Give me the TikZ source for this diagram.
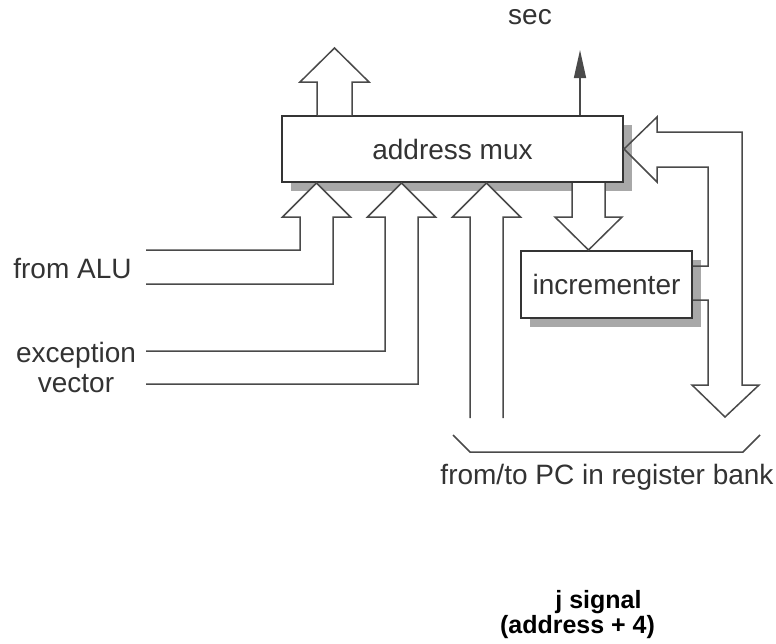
\documentclass[tikz,border=0pt]{standalone}
\usepackage{fontspec}
\setmainfont{Liberation Sans}
\usetikzlibrary{arrows.meta, positioning, shadows}
\definecolor{armLine}{HTML}{4A4A4A}
\definecolor{armText}{HTML}{333333}
\definecolor{armShade}{HTML}{A8A8A8}

\begin{document}
\begin{tikzpicture}[
    x=0.5pt, y=-0.5pt,
    block/.style={rectangle, draw=armLine!70!black, line width=1pt, fill=white,
                  font=\fontsize{14}{16}\selectfont\color{armText},
                  drop shadow={shadow xshift=4.5pt, shadow yshift=-4.5pt,
                               fill=armShade, opacity=1}},
    bus/.style={draw=armLine, line width=0.75pt, line join=miter},
    lbl/.style={font=\fontsize{14}{15}\selectfont\color{armText}, inner sep=0pt},
    note/.style={font=\bfseries\fontsize{12.5}{14}\selectfont, inner sep=0pt},
  ]
    \fill[white] (0,0) rectangle (776,643);
    \useasboundingbox (0,0) rectangle (776,643);

    \node[lbl, anchor=base] (sec) at (530,24) {sec};

    \node[block, minimum width=170.5pt, minimum height=33pt] (mux) at (452.5,149) {address mux};
    \node[block, minimum width=85.5pt, minimum height=33.5pt] (inc) at (606.5,284.5) {incrementer};

    % address out, sequential signal
    \filldraw[bus, fill=white] (mux.north -| 317,0) -- (317,82) -- (300,82) -- (334.5,48)
      -- (369,82) -- (352,82) -- (mux.north -| 352,0);
    \draw[armLine, line width=0.75pt, -{Triangle[length=14pt, width=6pt]}] (mux.north -| 580,0) -- (580,50);

    % inputs from ALU and exception vector
    \foreach \c/\yl/\yr in {316.5/250/284, 401.5/351/384}
      \filldraw[bus, fill=white] (146,\yl) -- (\c-16.5,\yl) -- (\c-16.5,217) -- (\c-34,217)
        -- (mux.south -| \c,0) -- (\c+34,217) -- (\c+16.5,217) -- (\c+16.5,\yr) -- (146,\yr);
    \filldraw[bus, fill=white] (470,418) -- (470,217) -- (452.5,217) -- (mux.south -| 486.5,0)
      -- (520.5,217) -- (503,217) -- (503,418);

    \node[lbl, anchor=east] (alu) at (132,268) {from ALU};
    \node[lbl, align=center] (exc) at (76,367) {exception\\vector};

    % mux to incrementer
    \filldraw[bus, fill=white] (mux.south -| 572,0) -- (572,217) -- (555,217) -- (inc.north -| 588.5,0)
      -- (622,217) -- (605,217) -- (mux.south -| 605,0);

    % PC loop
    \draw[bus] (inc.east |- 0,266) -- (708,266) -- (708,167) -- (657,167) -- (657,182)
      -- (mux.east) -- (657,117) -- (657,132) -- (742,132) -- (742,385) -- (759,385)
      -- (725,417) -- (692,385) -- (708,385) -- (708,300) -- (inc.east |- 0,300);

    \draw[bus] (453,435) -- (470,452) -- (743,452) -- (760,435);
    \node[lbl] (bank) at (607,477) {from/to PC in register bank};

    \node[note] (jsig) at (598.5,602) {j signal};
    \node[note] (jaddr) at (577.5,627) {(address + 4)};
  \end{tikzpicture}
\end{document}
